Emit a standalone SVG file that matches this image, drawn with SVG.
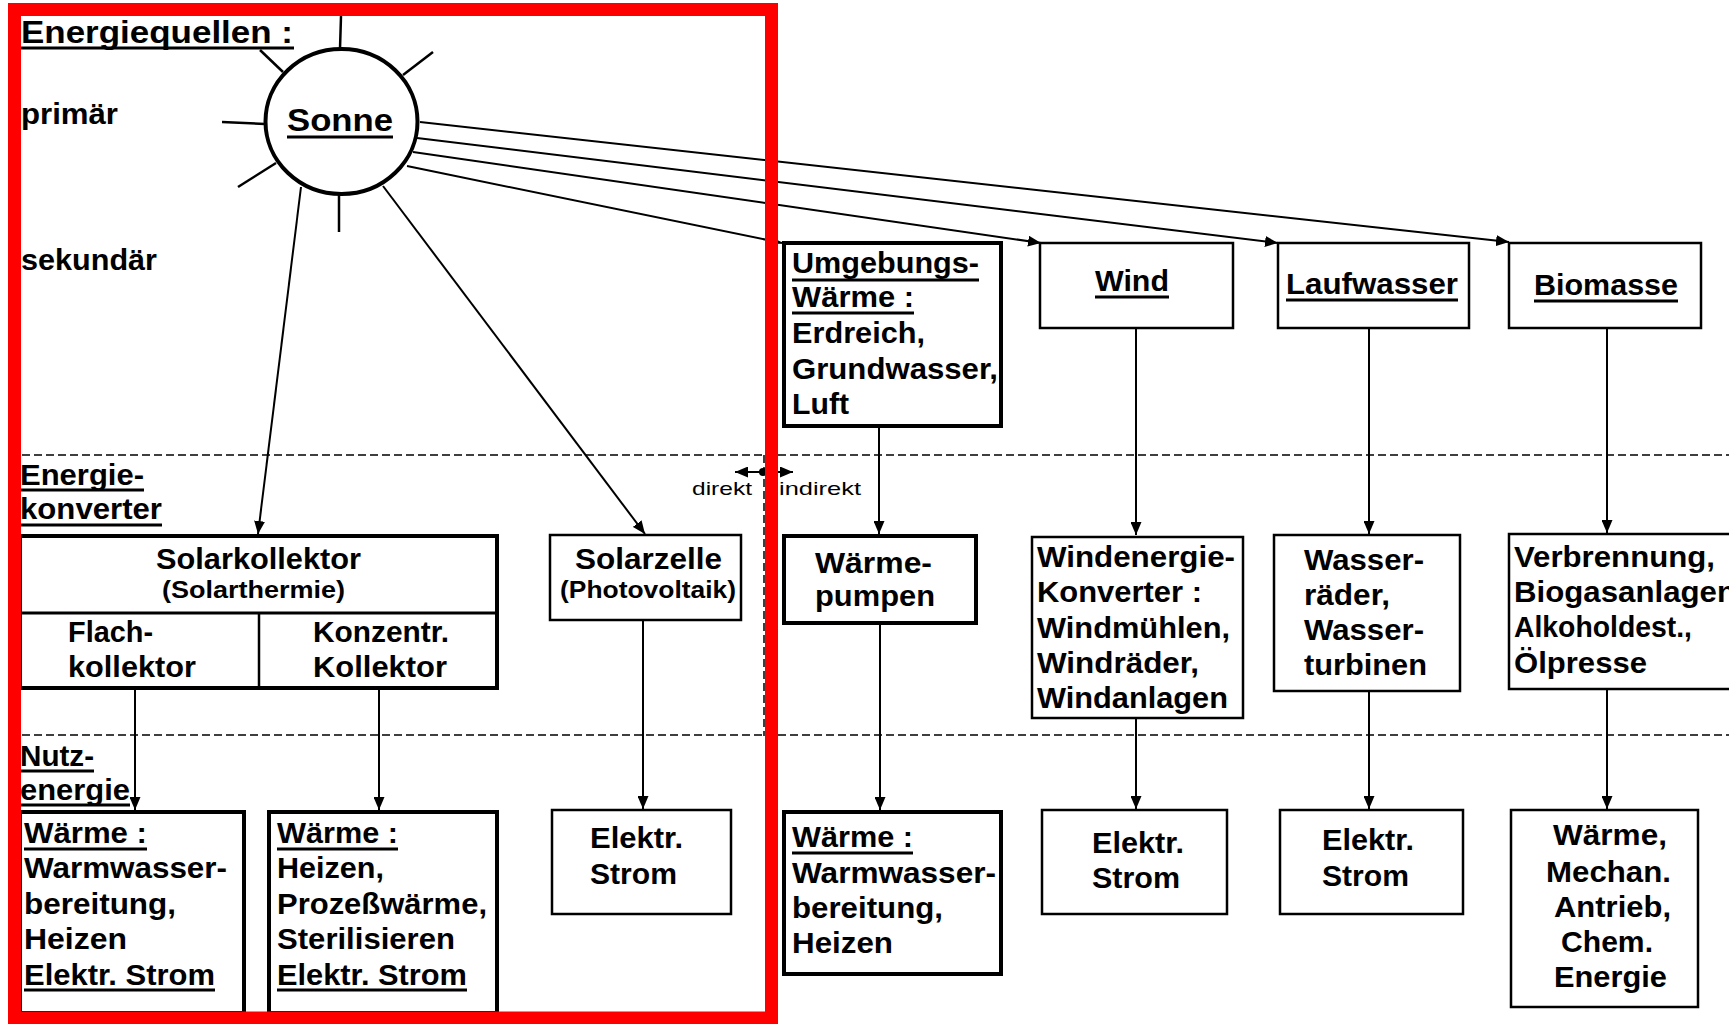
<svg xmlns="http://www.w3.org/2000/svg" width="1729" height="1024" viewBox="0 0 1729 1024">
<style>
text{font-family:"Liberation Sans",Arial,sans-serif;font-weight:bold;font-size:30px;fill:#000}
.sm{font-size:24px}
.tiny{font-size:19px;font-weight:normal}
.box{fill:#fff;stroke:#000;stroke-width:2.5}
.thick{fill:#fff;stroke:#000;stroke-width:4}
.ul{stroke:#000;stroke-width:3}
.conn{stroke:#000;stroke-width:2;fill:none}
.ray{stroke:#000;stroke-width:2.5}
.dash{stroke:#000;stroke-width:1.5;stroke-dasharray:8 4;fill:none}
</style>
<defs>
<marker id="ah" markerUnits="userSpaceOnUse" markerWidth="13" markerHeight="11" refX="13" refY="5.5" orient="auto-start-reverse">
<path d="M0,0 L13,5.5 L0,11 z" fill="#000"/>
</marker>
</defs>
<rect width="1729" height="1024" fill="#fff"/>

<g id="guides">
<line class="dash" x1="22" y1="455" x2="1729" y2="455"/>
<line class="dash" x1="22" y1="735" x2="1729" y2="735"/>
<line class="dash" x1="764" y1="455" x2="764" y2="736"/>
<line class="conn" x1="735" y1="472" x2="793" y2="472" marker-start="url(#ah)" marker-end="url(#ah)"/>
<circle cx="763" cy="472" r="4" fill="#000"/>
<text class="tiny" x="692" y="495" textLength="60" lengthAdjust="spacingAndGlyphs">direkt</text>
<text class="tiny" x="779" y="495" textLength="82" lengthAdjust="spacingAndGlyphs">indirekt</text>
</g>

<g id="labels">
<text x="21" y="43" textLength="272" lengthAdjust="spacingAndGlyphs" style="font-size:32px">Energiequellen :</text>
<line class="ul" x1="21" y1="48" x2="294" y2="48"/>
<text x="21" y="124" textLength="97" lengthAdjust="spacingAndGlyphs">primär</text>
<text x="21" y="270" textLength="136" lengthAdjust="spacingAndGlyphs">sekundär</text>
<text x="20" y="485" textLength="124" lengthAdjust="spacingAndGlyphs">Energie-</text>
<line class="ul" x1="20" y1="490" x2="144" y2="490"/>
<text x="20" y="519" textLength="142" lengthAdjust="spacingAndGlyphs">konverter</text>
<line class="ul" x1="20" y1="525" x2="162" y2="525"/>
<text x="20" y="766" textLength="74" lengthAdjust="spacingAndGlyphs">Nutz-</text>
<line class="ul" x1="20" y1="771" x2="94" y2="771"/>
<text x="20" y="800" textLength="110" lengthAdjust="spacingAndGlyphs">energie</text>
<line class="ul" x1="20" y1="805" x2="130" y2="805"/>
</g>

<g id="sonne">
<line class="ray" x1="340" y1="49" x2="341" y2="16"/>
<line class="ray" x1="260" y1="50" x2="283" y2="72"/>
<line class="ray" x1="403" y1="75" x2="433" y2="52"/>
<line class="ray" x1="222" y1="122" x2="265" y2="124"/>
<line class="ray" x1="238" y1="187" x2="276" y2="163"/>
<line class="ray" x1="339" y1="194" x2="339" y2="232"/>
<ellipse cx="341.5" cy="121.5" rx="76" ry="72.5" fill="#fff" stroke="#000" stroke-width="4"/>
<text x="287" y="131" textLength="106" lengthAdjust="spacingAndGlyphs" style="font-size:32px">Sonne</text>
<line class="ul" x1="287" y1="137" x2="393" y2="137"/>
</g>

<g id="connectors">
<line class="conn" x1="301" y1="187" x2="258" y2="534" marker-end="url(#ah)"/>
<line class="conn" x1="383" y1="186" x2="645" y2="534" marker-end="url(#ah)"/>
<line class="conn" x1="407" y1="166" x2="782" y2="243" marker-end="url(#ah)"/>
<line class="conn" x1="413" y1="152" x2="1041" y2="243" marker-end="url(#ah)"/>
<line class="conn" x1="417" y1="138" x2="1278" y2="243" marker-end="url(#ah)"/>
<line class="conn" x1="420" y1="122" x2="1509" y2="242" marker-end="url(#ah)"/>
<line class="conn" x1="135" y1="688" x2="135" y2="810" marker-end="url(#ah)"/>
<line class="conn" x1="379" y1="688" x2="379" y2="810" marker-end="url(#ah)"/>
<line class="conn" x1="643" y1="620" x2="643" y2="809" marker-end="url(#ah)"/>
<line class="conn" x1="879" y1="426" x2="879" y2="534" marker-end="url(#ah)"/>
<line class="conn" x1="1136" y1="328" x2="1136" y2="535" marker-end="url(#ah)"/>
<line class="conn" x1="1369" y1="328" x2="1369" y2="534" marker-end="url(#ah)"/>
<line class="conn" x1="1607" y1="328" x2="1607" y2="533" marker-end="url(#ah)"/>
<line class="conn" x1="880" y1="623" x2="880" y2="810" marker-end="url(#ah)"/>
<line class="conn" x1="1136" y1="718" x2="1136" y2="809" marker-end="url(#ah)"/>
<line class="conn" x1="1369" y1="691" x2="1369" y2="809" marker-end="url(#ah)"/>
<line class="conn" x1="1607" y1="689" x2="1607" y2="809" marker-end="url(#ah)"/>
</g>

<g id="solarkollektor">
<rect class="thick" x="20" y="536" width="477" height="152"/>
<line stroke="#000" stroke-width="3" x1="20" y1="613" x2="497" y2="613"/>
<line stroke="#000" stroke-width="2.5" x1="259" y1="613" x2="259" y2="688"/>
<text x="156" y="569" textLength="205" lengthAdjust="spacingAndGlyphs">Solarkollektor</text>
<text class="sm" x="162" y="598" textLength="183" lengthAdjust="spacingAndGlyphs">(Solarthermie)</text>
<text x="68" y="642" textLength="85" lengthAdjust="spacingAndGlyphs">Flach-</text>
<text x="68" y="677" textLength="128" lengthAdjust="spacingAndGlyphs">kollektor</text>
<text x="313" y="642" textLength="136" lengthAdjust="spacingAndGlyphs">Konzentr.</text>
<text x="313" y="677" textLength="134" lengthAdjust="spacingAndGlyphs">Kollektor</text>
</g>

<g id="solarzelle">
<rect class="box" x="550" y="535" width="191" height="85"/>
<text x="575" y="569" textLength="147" lengthAdjust="spacingAndGlyphs">Solarzelle</text>
<text class="sm" x="560" y="598" textLength="176" lengthAdjust="spacingAndGlyphs">(Photovoltaik)</text>
</g>

<g id="nutz-flach">
<rect class="thick" x="20" y="812" width="224" height="201"/>
<text x="24" y="843" textLength="123" lengthAdjust="spacingAndGlyphs">Wärme :</text>
<line class="ul" x1="24" y1="849" x2="147" y2="849"/>
<text x="24" y="878" textLength="203" lengthAdjust="spacingAndGlyphs">Warmwasser-</text>
<text x="24" y="914" textLength="152" lengthAdjust="spacingAndGlyphs">bereitung,</text>
<text x="24" y="949" textLength="103" lengthAdjust="spacingAndGlyphs">Heizen</text>
<text x="24" y="985" textLength="191" lengthAdjust="spacingAndGlyphs">Elektr. Strom</text>
<line class="ul" x1="24" y1="990" x2="215" y2="990"/>
</g>

<g id="nutz-konzentr">
<rect class="thick" x="269" y="812" width="228" height="201"/>
<text x="277" y="843" textLength="121" lengthAdjust="spacingAndGlyphs">Wärme :</text>
<line class="ul" x1="277" y1="849" x2="398" y2="849"/>
<text x="277" y="878" textLength="107" lengthAdjust="spacingAndGlyphs">Heizen,</text>
<text x="277" y="914" textLength="210" lengthAdjust="spacingAndGlyphs">Prozeßwärme,</text>
<text x="277" y="949" textLength="178" lengthAdjust="spacingAndGlyphs">Sterilisieren</text>
<text x="277" y="985" textLength="190" lengthAdjust="spacingAndGlyphs">Elektr. Strom</text>
<line class="ul" x1="277" y1="990" x2="467" y2="990"/>
</g>

<g id="nutz-solarzelle">
<rect class="box" x="552" y="810" width="179" height="104"/>
<text x="590" y="848" textLength="93" lengthAdjust="spacingAndGlyphs">Elektr.</text>
<text x="590" y="884" textLength="87" lengthAdjust="spacingAndGlyphs">Strom</text>
</g>

<g id="umgebungswaerme">
<rect class="thick" x="784" y="243" width="217" height="183"/>
<text x="792" y="273" textLength="187" lengthAdjust="spacingAndGlyphs">Umgebungs-</text>
<line class="ul" x1="792" y1="280" x2="979" y2="280"/>
<text x="792" y="307" textLength="122" lengthAdjust="spacingAndGlyphs">Wärme :</text>
<line class="ul" x1="792" y1="313" x2="914" y2="313"/>
<text x="792" y="343" textLength="133" lengthAdjust="spacingAndGlyphs">Erdreich,</text>
<text x="792" y="379" textLength="206" lengthAdjust="spacingAndGlyphs">Grundwasser,</text>
<text x="792" y="414" textLength="57" lengthAdjust="spacingAndGlyphs">Luft</text>
</g>

<g id="wind">
<rect class="box" x="1040" y="243" width="193" height="85"/>
<text x="1095" y="291" textLength="74" lengthAdjust="spacingAndGlyphs">Wind</text>
<line class="ul" x1="1095" y1="297" x2="1169" y2="297"/>
</g>

<g id="laufwasser">
<rect class="box" x="1278" y="243" width="191" height="85"/>
<text x="1286" y="294" textLength="172" lengthAdjust="spacingAndGlyphs">Laufwasser</text>
<line class="ul" x1="1286" y1="300" x2="1458" y2="300"/>
</g>

<g id="biomasse">
<rect class="box" x="1509" y="243" width="192" height="85"/>
<text x="1534" y="295" textLength="144" lengthAdjust="spacingAndGlyphs">Biomasse</text>
<line class="ul" x1="1534" y1="301" x2="1678" y2="301"/>
</g>

<g id="waermepumpen">
<rect class="thick" x="784" y="536" width="192" height="87"/>
<text x="815" y="573" textLength="117" lengthAdjust="spacingAndGlyphs">Wärme-</text>
<text x="815" y="606" textLength="120" lengthAdjust="spacingAndGlyphs">pumpen</text>
</g>

<g id="windenergiekonverter">
<rect class="box" x="1032" y="537" width="211" height="181"/>
<text x="1037" y="567" textLength="198" lengthAdjust="spacingAndGlyphs">Windenergie-</text>
<text x="1037" y="602" textLength="165" lengthAdjust="spacingAndGlyphs">Konverter :</text>
<text x="1037" y="638" textLength="193" lengthAdjust="spacingAndGlyphs">Windmühlen,</text>
<text x="1037" y="673" textLength="162" lengthAdjust="spacingAndGlyphs">Windräder,</text>
<text x="1037" y="708" textLength="191" lengthAdjust="spacingAndGlyphs">Windanlagen</text>
</g>

<g id="wasserraeder">
<rect class="box" x="1274" y="535" width="186" height="156"/>
<text x="1304" y="570" textLength="120" lengthAdjust="spacingAndGlyphs">Wasser-</text>
<text x="1304" y="605" textLength="86" lengthAdjust="spacingAndGlyphs">räder,</text>
<text x="1304" y="640" textLength="120" lengthAdjust="spacingAndGlyphs">Wasser-</text>
<text x="1304" y="675" textLength="123" lengthAdjust="spacingAndGlyphs">turbinen</text>
</g>

<g id="verbrennung">
<rect class="box" x="1509" y="534" width="240" height="155"/>
<text x="1514" y="567" textLength="201" lengthAdjust="spacingAndGlyphs">Verbrennung,</text>
<text x="1514" y="602" textLength="222" lengthAdjust="spacingAndGlyphs">Biogasanlagen</text>
<text x="1514" y="637" textLength="178" lengthAdjust="spacingAndGlyphs">Alkoholdest.,</text>
<text x="1514" y="673" textLength="133" lengthAdjust="spacingAndGlyphs">Ölpresse</text>
</g>

<g id="nutz-waermepumpen">
<rect class="thick" x="784" y="812" width="217" height="162"/>
<text x="792" y="847" textLength="121" lengthAdjust="spacingAndGlyphs">Wärme :</text>
<line class="ul" x1="792" y1="853" x2="913" y2="853"/>
<text x="792" y="883" textLength="204" lengthAdjust="spacingAndGlyphs">Warmwasser-</text>
<text x="792" y="918" textLength="151" lengthAdjust="spacingAndGlyphs">bereitung,</text>
<text x="792" y="953" textLength="101" lengthAdjust="spacingAndGlyphs">Heizen</text>
</g>

<g id="nutz-wind">
<rect class="box" x="1042" y="810" width="185" height="104"/>
<text x="1092" y="853" textLength="92" lengthAdjust="spacingAndGlyphs">Elektr.</text>
<text x="1092" y="888" textLength="88" lengthAdjust="spacingAndGlyphs">Strom</text>
</g>

<g id="nutz-wasser">
<rect class="box" x="1280" y="810" width="183" height="104"/>
<text x="1322" y="850" textLength="92" lengthAdjust="spacingAndGlyphs">Elektr.</text>
<text x="1322" y="886" textLength="87" lengthAdjust="spacingAndGlyphs">Strom</text>
</g>

<g id="nutz-biomasse">
<rect class="box" x="1511" y="810" width="187" height="197"/>
<text x="1553" y="845" textLength="114" lengthAdjust="spacingAndGlyphs">Wärme,</text>
<text x="1546" y="882" textLength="125" lengthAdjust="spacingAndGlyphs">Mechan.</text>
<text x="1554" y="917" textLength="117" lengthAdjust="spacingAndGlyphs">Antrieb,</text>
<text x="1561" y="952" textLength="92" lengthAdjust="spacingAndGlyphs">Chem.</text>
<text x="1554" y="987" textLength="113" lengthAdjust="spacingAndGlyphs">Energie</text>
</g>

<g id="highlight">
<rect x="14.5" y="9.5" width="757" height="1008.5" fill="none" stroke="#ff0000" stroke-width="13"/>
</g>
</svg>
